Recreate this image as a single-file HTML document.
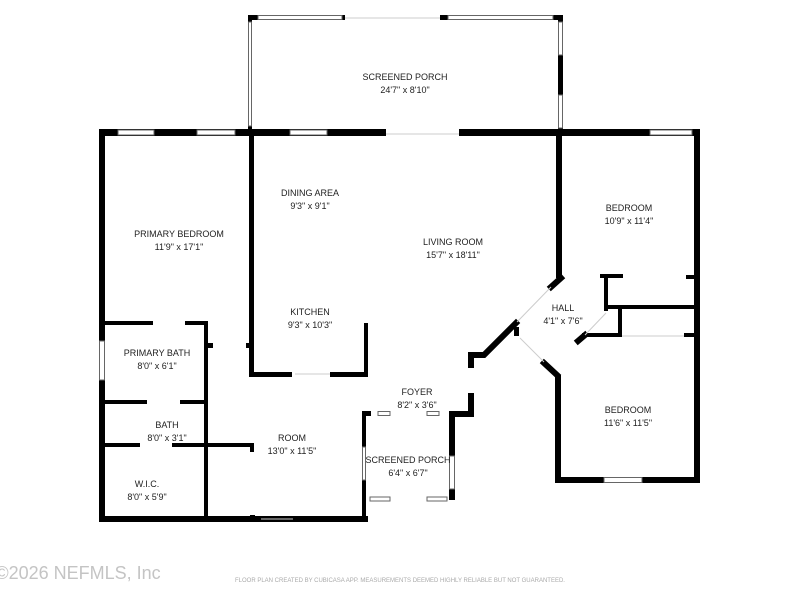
<!DOCTYPE html>
<html><head><meta charset="utf-8"><style>
html,body{margin:0;padding:0;background:#fff;width:800px;height:600px;overflow:hidden}
svg{display:block}
text{font-family:"Liberation Sans",sans-serif;font-size:9px;fill:#222;text-anchor:middle}
.win{fill:#fff;stroke:#666;stroke-width:1}
</style></head><body>
<svg width="800" height="600" viewBox="0 0 800 600">
<g fill="#000">
<rect x="248" y="15" width="97" height="5"/>
<rect x="440" y="15" width="123" height="5"/>
<rect x="248" y="15" width="4" height="115"/>
<rect x="558" y="15" width="5" height="115"/>
<rect x="99" y="129" width="287" height="7"/>
<rect x="459" y="129" width="241" height="7"/>
<rect x="99" y="129" width="6" height="393"/>
<rect x="99" y="516" width="269" height="6"/>
<rect x="694" y="129" width="6" height="354"/>
<rect x="555" y="477" width="145" height="6"/>
<rect x="249" y="130" width="5" height="247"/>
<rect x="249" y="372" width="43" height="5"/>
<rect x="330" y="372" width="38" height="5"/>
<rect x="364" y="323" width="4" height="54"/>
<rect x="99" y="321" width="54" height="4"/>
<rect x="185" y="321" width="23" height="4"/>
<rect x="204" y="321" width="4" height="201"/>
<rect x="208" y="343" width="5" height="5"/>
<rect x="246" y="343" width="5" height="5"/>
<rect x="99" y="400" width="48" height="4"/>
<rect x="180" y="400" width="28" height="4"/>
<rect x="99" y="443" width="41" height="4"/>
<rect x="172" y="443" width="82" height="4"/>
<rect x="250" y="443" width="4" height="9"/>
<rect x="250" y="515" width="5" height="7"/>
<rect x="362" y="411" width="4" height="111"/>
<rect x="362" y="411" width="9" height="5"/>
<rect x="449" y="411" width="25" height="6"/>
<rect x="449" y="411" width="6" height="89"/>
<rect x="468" y="393" width="6" height="24"/>
<rect x="556" y="130" width="6" height="148"/>
<rect x="600" y="274" width="23" height="4"/>
<rect x="604" y="274" width="4" height="37"/>
<rect x="605" y="305" width="92" height="4"/>
<rect x="686" y="275" width="10" height="4"/>
<rect x="618" y="307" width="4" height="30"/>
<rect x="582" y="333" width="40" height="4"/>
<rect x="684" y="333" width="12" height="4"/>
<rect x="555" y="375" width="6" height="108"/>
</g>
<g stroke="#000" stroke-width="6" fill="none" stroke-linecap="square">
<polyline points="471,365 471,355 484,355 516,323"/>
<line x1="551" y1="287" x2="561" y2="278"/>
<line x1="544" y1="363" x2="557" y2="375"/>
<line x1="578" y1="341" x2="585" y2="335"/>
</g>
<rect x="514" y="327" width="5" height="9" fill="#000"/>
<g class="win">
<rect x="258" y="15.5" width="84" height="4"/>
<rect x="448" y="15.5" width="105" height="4"/>
<rect x="248.5" y="22" width="3" height="104"/>
<rect x="558.5" y="22" width="4" height="33"/>
<rect x="558.5" y="95" width="4" height="33"/>
<rect x="118" y="130" width="36" height="5"/>
<rect x="197" y="130" width="38" height="5"/>
<rect x="290" y="130" width="37" height="5"/>
<rect x="650" y="130" width="42" height="5"/>
<rect x="99.5" y="341" width="5" height="39"/>
<rect x="378" y="411.5" width="12" height="4"/>
<rect x="427" y="411.5" width="12" height="4"/>
<rect x="362.5" y="447" width="3" height="33"/>
<rect x="449.5" y="456" width="5" height="33"/>
<rect x="370" y="497" width="20" height="4"/>
<rect x="427" y="497" width="20" height="4"/>
<rect x="604" y="477.5" width="38" height="5"/>
</g>
<g stroke="#ccc" stroke-width="1">
<line x1="386" y1="134" x2="459" y2="134"/>
<line x1="345" y1="18" x2="440" y2="18"/>
<line x1="295" y1="374" x2="330" y2="374"/>
<line x1="261" y1="519" x2="293" y2="519"/>
<line x1="517" y1="322" x2="551" y2="287"/>
<line x1="585" y1="335" x2="606" y2="313"/>
<line x1="520" y1="338" x2="544" y2="362"/>
<line x1="622" y1="336" x2="684" y2="336"/>
</g>
<text x="405" y="80">SCREENED PORCH</text><text x="405" y="93">24'7" x 8'10"</text>
<text x="310" y="196">DINING AREA</text><text x="310" y="209">9'3" x 9'1"</text>
<text x="179" y="237">PRIMARY BEDROOM</text><text x="179" y="250">11'9" x 17'1"</text>
<text x="453" y="245">LIVING ROOM</text><text x="453" y="258">15'7" x 18'11"</text>
<text x="629" y="211">BEDROOM</text><text x="629" y="224">10'9" x 11'4"</text>
<text x="563" y="311">HALL</text><text x="563" y="324">4'1" x 7'6"</text>
<text x="310" y="315">KITCHEN</text><text x="310" y="328">9'3" x 10'3"</text>
<text x="157" y="356">PRIMARY BATH</text><text x="157" y="369">8'0" x 6'1"</text>
<text x="417" y="395">FOYER</text><text x="417" y="408">8'2" x 3'6"</text>
<text x="628" y="413">BEDROOM</text><text x="628" y="426">11'6" x 11'5"</text>
<text x="167" y="428">BATH</text><text x="167" y="441">8'0" x 3'1"</text>
<text x="292" y="441">ROOM</text><text x="292" y="454">13'0" x 11'5"</text>
<text x="408" y="463">SCREENED PORCH</text><text x="408" y="476">6'4" x 6'7"</text>
<text x="147" y="487">W.I.C.</text><text x="147" y="500">8'0" x 5'9"</text>
<text x="78" y="579" style="font-size:18px;fill:#c4c4c4">©2026 NEFMLS, Inc</text>
<text x="400" y="582" style="font-size:6px;fill:#aaa">FLOOR PLAN CREATED BY CUBICASA APP. MEASUREMENTS DEEMED HIGHLY RELIABLE BUT NOT GUARANTEED.</text>
</svg>
</body></html>
